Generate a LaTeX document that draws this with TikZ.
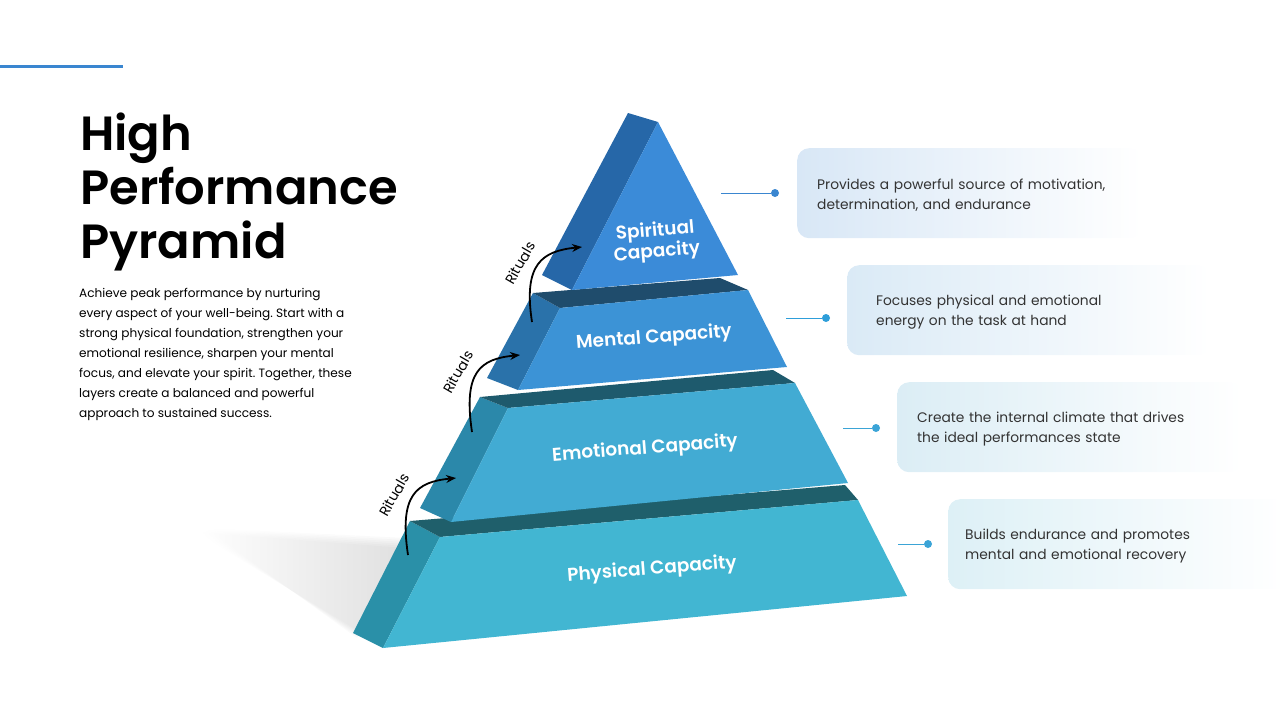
\documentclass[tikz,border=0pt]{standalone}
\usepackage{fontspec}
\setmainfont{Poppins}
\IfFontExistsTF{Poppins SemiBold}{\newfontfamily\semibold{Poppins SemiBold}}{\def\semibold{\bfseries}}
\usetikzlibrary{arrows.meta,positioning}
\frenchspacing

\definecolor{accent}{HTML}{3A86D0}
\definecolor{physfront}{HTML}{42B6D2}
\definecolor{physside}{HTML}{2A90A8}
\definecolor{phystop}{HTML}{1F5F6B}
\definecolor{emofront}{HTML}{42ABD3}
\definecolor{emoside}{HTML}{2B88AA}
\definecolor{emotop}{HTML}{1E5A6D}
\definecolor{mentfront}{HTML}{3C93D6}
\definecolor{mentside}{HTML}{2A72AA}
\definecolor{menttop}{HTML}{1F4C6C}
\definecolor{spirfront}{HTML}{3B8BD8}
\definecolor{spirside}{HTML}{2667A8}
\definecolor{noteA}{HTML}{D8E7F6}
\definecolor{noteB}{HTML}{DAEAF6}
\definecolor{noteC}{HTML}{DBEDF5}
\definecolor{noteD}{HTML}{DDF0F6}

\begin{document}
\begin{tikzpicture}
    [x=1pt,y=-1pt,
     layerlabel/.style={text=white,font=\semibold\fontsize{18.5}{21}\selectfont,align=center,rotate=4.5},
     ritual/.style={-{Stealth[length=10pt,width=8pt]},line width=1.8pt},
     ritualtext/.style={font=\fontsize{14}{16}\selectfont,rotate=60},
     note/.style={anchor=north west,rounded corners=12pt,right color=white,text width=305pt,
                  inner xsep=20pt,minimum height=90pt,align=left,text=black!80,
                  font=\fontsize{13.8}{20}\selectfont},
     link/.style={line width=1pt},
     dot/.style={circle,inner sep=0pt,minimum size=8pt}]
    \useasboundingbox (0,0) rectangle (1280,720);

    \draw[accent,line width=3pt] (0,66) -- (123,66);

    \node[anchor=north west,inner sep=0pt,align=left,font=\semibold\fontsize{48}{54}\selectfont]
        (title) at (80,113) {High\\Performance\\Pyramid};
    \node[anchor=north west,inner sep=0pt,align=left,font=\fontsize{12.1}{20}\selectfont]
        (intro) at (79,288) {Achieve peak performance by nurturing\\
        every aspect of your well-being. Start with a\\
        strong physical foundation, strengthen your\\
        emotional resilience, sharpen your mental\\
        focus, and elevate your spirit. Together, these\\
        layers create a balanced and powerful\\
        approach to sustained success.};

    % shadow
    \foreach \d in {0,2,...,10}
        \shade[left color=white,right color=black!40,opacity=0.06]
            (195+\d,532-0.4*\d) -- (405,548-\d) -- (360-0.3*\d,632+0.6*\d) -- cycle;

    % physical
    \fill[physside] (410,521) -- (440,537) -- (383,648) -- (353,633) -- cycle;
    \fill[phystop] (410,521) -- (845,485) -- (858,500) -- (440,537) -- cycle;
    \fill[physfront] (440,537) -- (858,500) -- (907,596) -- (383,648) -- cycle;
    % emotional
    \fill[emoside] (480,397) -- (508,408) -- (451,522) -- (420,508) -- cycle;
    \fill[emotop] (480,397) -- (773,370) -- (795,383) -- (508,408) -- cycle;
    \fill[emofront] (508,408) -- (795,383) -- (848,483) -- (451,522) -- cycle;
    % mental
    \fill[mentside] (533,293) -- (560,308) -- (518,390) -- (487,378) -- cycle;
    \fill[menttop] (533,293) -- (720,278) -- (748,290) -- (560,308) -- cycle;
    \fill[mentfront] (560,308) -- (748,290) -- (787,367) -- (518,390) -- cycle;
    % spiritual
    \fill[spirside] (628,113) -- (658,122) -- (572,290) -- (542,275) -- cycle;
    \fill[spirfront] (658,122) -- (738,275) -- (572,290) -- cycle;

    \node[layerlabel] (phys) at (652,570) {Physical Capacity};
    \node[layerlabel] (emo) at (645,449) {Emotional Capacity};
    \node[layerlabel] (ment) at (654,338) {Mental Capacity};
    \node[layerlabel,rotate=0.5] (spir) at (656,242) {Spiritual\\Capacity};

    % rituals
    \coordinate (r1s) at (408,555);
    \coordinate (r1e) at (456,478);
    \coordinate (r2s) at (472,432);
    \coordinate (r2e) at (520,355);
    \coordinate (r3s) at (532,322);
    \coordinate (r3e) at (582,247);
    \draw[ritual] (r1s) .. controls +(-9,-60) and +(-40,4) .. (r1e);
    \draw[ritual] (r2s) .. controls +(-9,-60) and +(-40,4) .. (r2e);
    \draw[ritual] (r3s) .. controls +(-9,-58) and +(-40,4) .. (r3e);
    \node[ritualtext] (rit1) at (394,495) {Rituals};
    \node[ritualtext] (rit2) at (458,372) {Rituals};
    \node[ritualtext] (rit3) at (520,263) {Rituals};

    % notes
    \node[note,left color=noteA] (spirnote) at (797,148)
        {\rule{0pt}{15pt}Provides a powerful source of motivation,\\determination, and endurance};
    \node[note,left color=noteB,inner xsep=29pt] (mentnote) at (847,265)
        {\rule{0pt}{15pt}Focuses physical and emotional\\energy on the task at hand};
    \node[note,left color=noteC] (emonote) at (897,382)
        {\rule{0pt}{15pt}Create the internal climate that drives\\the ideal performances state};
    \node[note,left color=noteD,inner xsep=17pt] (physnote) at (948,499)
        {\rule{0pt}{15pt}Builds endurance and promotes\\mental and emotional recovery};

    \coordinate (l1) at (721,193);
    \coordinate (l2) at (786,318);
    \coordinate (l3) at (843,428);
    \coordinate (l4) at (898,544);
    \node[dot,fill=accent] (d1) at (775,193) {};
    \node[dot,fill=accent!80!cyan] (d2) at (826,318) {};
    \node[dot,fill=physfront!90!blue] (d3) at (876,428) {};
    \node[dot,fill=physfront!90!blue] (d4) at (928,544) {};
    \draw[link,accent] (l1) -- (d1);
    \draw[link,accent!80!cyan] (l2) -- (d2);
    \draw[link,physfront!90!blue] (l3) -- (d3);
    \draw[link,physfront!90!blue] (l4) -- (d4);
\end{tikzpicture}
\end{document}
